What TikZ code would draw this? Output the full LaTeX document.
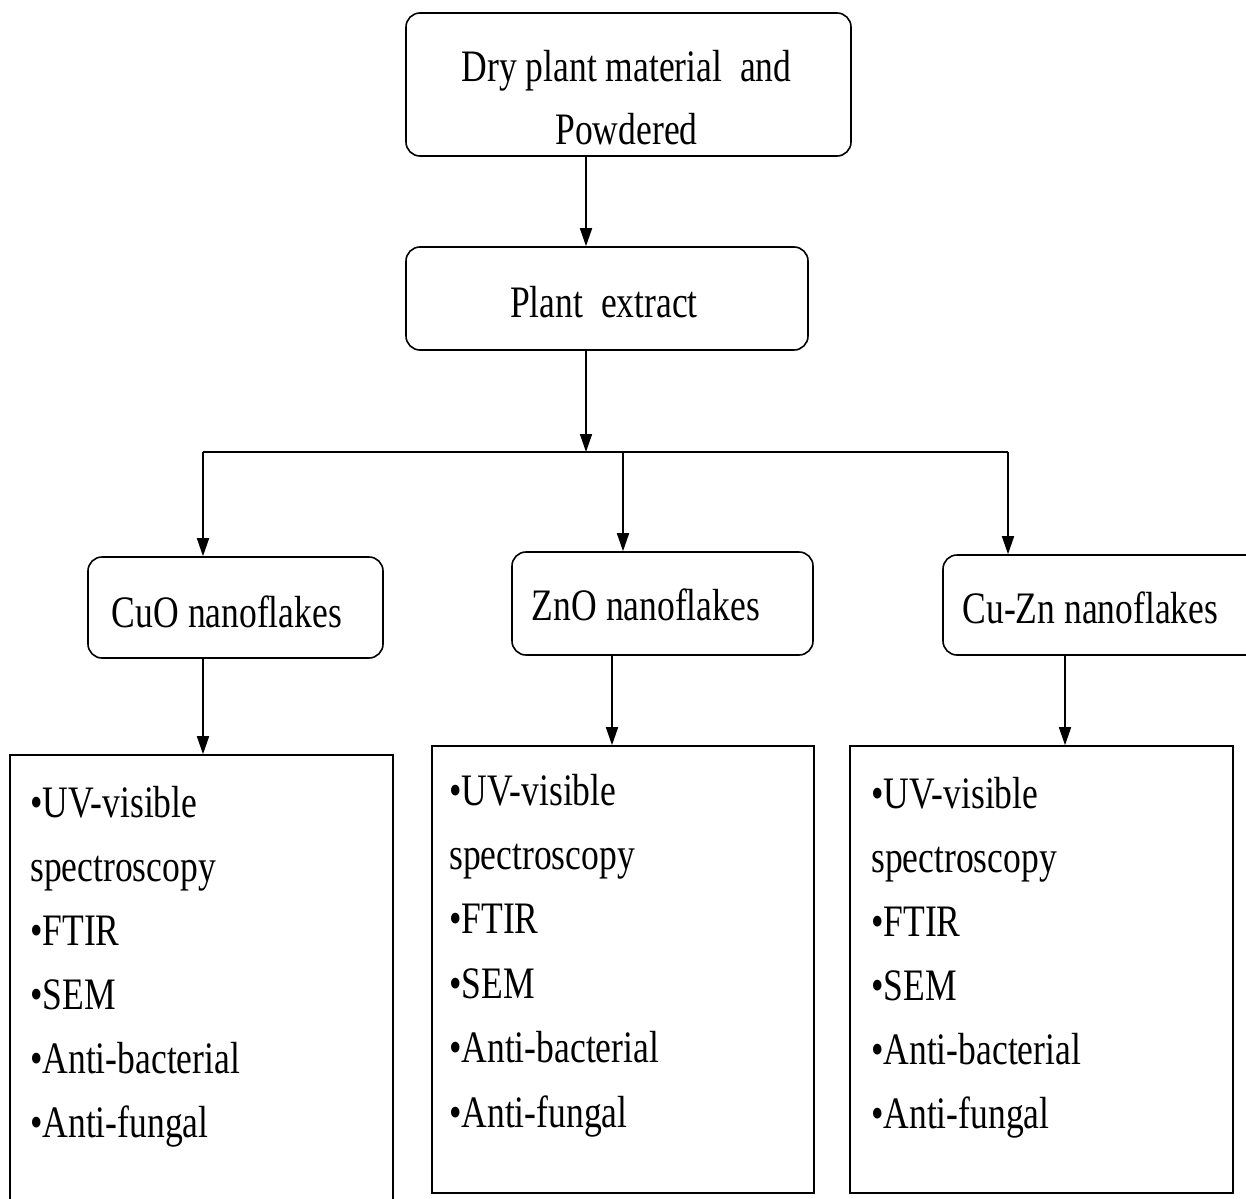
\documentclass[tikz,border=0pt]{standalone}
\usepackage{fontspec}
\setmainfont{Liberation Serif}[FakeStretch=0.79]
\usetikzlibrary{arrows.meta}
\begin{document}
\begin{tikzpicture}[x=1pt,y=-1pt,
  rbox/.style={draw=black, line width=1.6pt, rounded corners=14pt, inner sep=0pt},
  lbox/.style={draw=black, line width=1.6pt, inner sep=0pt},
  txt/.style={inner sep=0pt, font=\fontsize{45}{63}\selectfont},
  arr/.style={line width=1.6pt, -{Triangle[length=18pt,width=12pt]}},
  ln/.style={line width=1.6pt}]
\useasboundingbox (0,0) rectangle (1246,1198);
\fill[white] (0,0) rectangle (1246,1198);

% boxes
\node[rbox, minimum width=445pt, minimum height=143pt] (A) at (628.5,84.5) {};
\node[rbox, minimum width=402pt, minimum height=103pt] (B) at (607,298.5) {};
\node[rbox, minimum width=295pt, minimum height=101pt] (C) at (235.5,607.5) {};
\node[rbox, minimum width=301pt, minimum height=103pt] (D) at (662.5,603.5) {};
\node[rbox, minimum width=322pt, minimum height=100pt] (E) at (1104,605) {};
\node[lbox, minimum width=383pt, minimum height=460pt] (L1) at (201.5,985) {};
\node[lbox, minimum width=382pt, minimum height=447pt] (L2) at (623,969.5) {};
\node[lbox, minimum width=383pt, minimum height=447pt] (L3) at (1041.5,969.5) {};

% texts
\node[txt, anchor=base] (tA) at (626.5,82) {\begin{tabular}[t]{@{}c@{}}Dry plant material\ \ and\\Powdered\end{tabular}};
\node[txt, anchor=base] (tB) at (604,317) {Plant\ \ extract};
\node[txt, anchor=base] (tC) at (227,627) {CuO nanoflakes};
\node[txt, anchor=base] (tD) at (646,620) {ZnO nanoflakes};
\node[txt, anchor=base] (tE) at (1090.5,623) {Cu-Zn nanoflakes};

\node[txt, anchor=base west, font=\fontsize{45}{64}\selectfont] (t1) at (30,817) {\begin{tabular}[t]{@{}l@{}}•UV-visible\\spectroscopy\\•FTIR\\•SEM\\•Anti-bacterial\\•Anti-fungal\end{tabular}};
\node[txt, anchor=base west, font=\fontsize{45}{64.4}\selectfont] (t2) at (449,805) {\begin{tabular}[t]{@{}l@{}}•UV-visible\\spectroscopy\\•FTIR\\•SEM\\•Anti-bacterial\\•Anti-fungal\end{tabular}};
\node[txt, anchor=base west, font=\fontsize{45}{64}\selectfont] (t3) at (871,808) {\begin{tabular}[t]{@{}l@{}}•UV-visible\\spectroscopy\\•FTIR\\•SEM\\•Anti-bacterial\\•Anti-fungal\end{tabular}};

% connector coordinates
\coordinate (xa) at (586,0);
\coordinate (jL) at (203,452);
\coordinate (jM) at (586,452);
\coordinate (jR) at (1008,452);
\coordinate (xc) at (623,0);
\coordinate (x1) at (203,0);
\coordinate (x2) at (612,0);
\coordinate (x3) at (1065,0);

\draw[arr] (A.south -| xa) -- (B.north -| xa);
\draw[arr] (B.south -| xa) -- (jM);
\draw[ln] (jL) -- (jR);
\draw[arr] (jL) -- (C.north -| jL);
\draw[arr] (jM -| xc) -- (D.north -| xc);
\draw[arr] (jR) -- (E.north -| jR);
\draw[arr] (C.south -| x1) -- (L1.north -| x1);
\draw[arr] (D.south -| x2) -- (L2.north -| x2);
\draw[arr] (E.south -| x3) -- (L3.north -| x3);
\end{tikzpicture}
\end{document}
